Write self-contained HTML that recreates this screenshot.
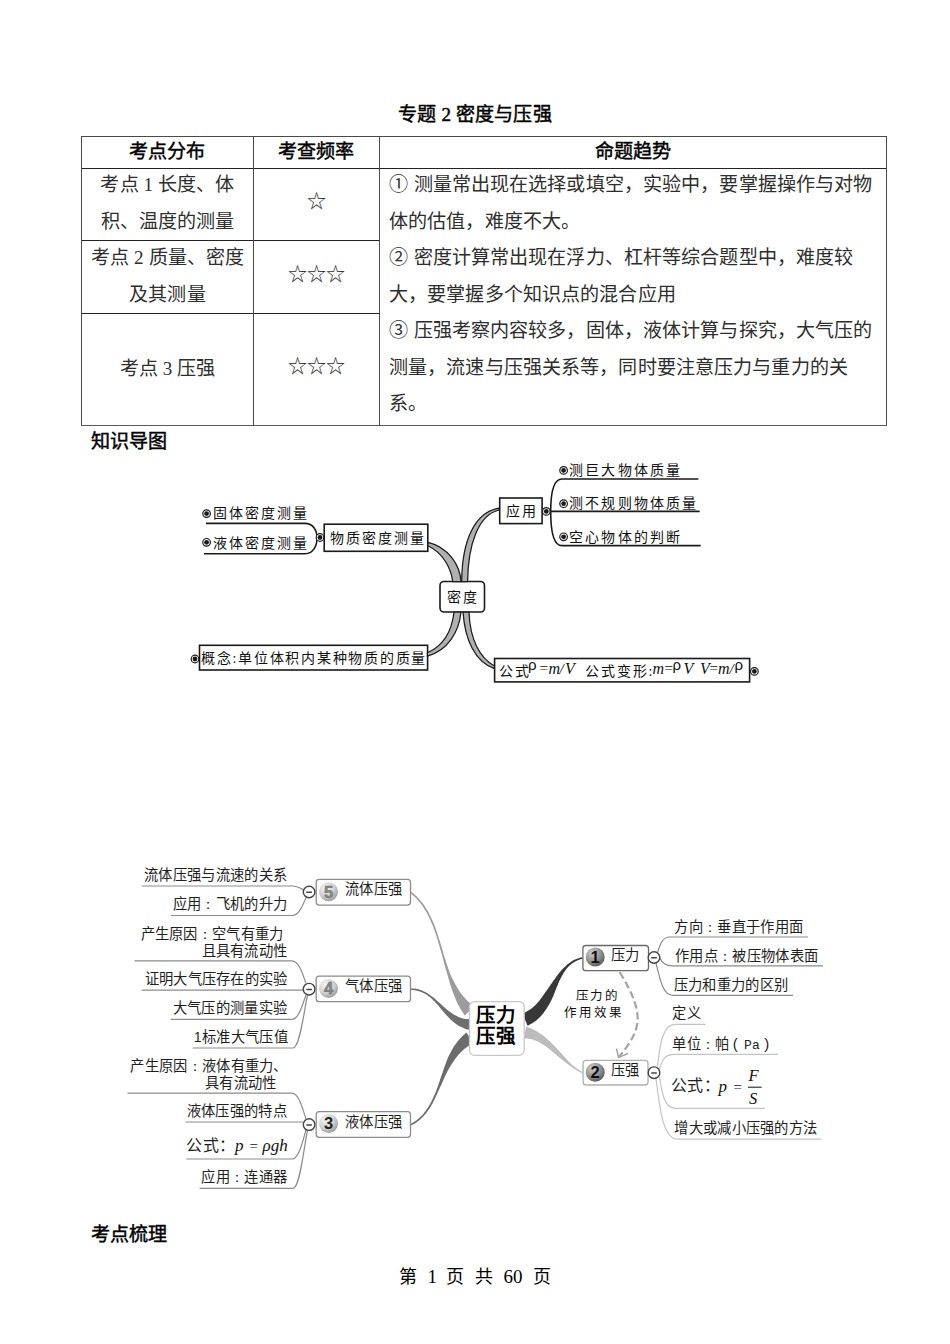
<!DOCTYPE html>
<html lang="zh-CN">
<head>
<meta charset="utf-8">
<style>
html,body{margin:0;padding:0;background:#fff;}
body{width:950px;height:1344px;position:relative;overflow:hidden;font-family:"Liberation Serif",serif;color:#000;}
.t{position:absolute;line-height:1;white-space:pre;}
.b{font-weight:bold;}
.f19{font-size:19.1px;color:#2e2e2e;letter-spacing:0.12px;}
.b.f19{color:#000;}
.hd{color:#000;-webkit-text-stroke:0.45px #000;}
.c{text-align:center;}
.hl{position:absolute;height:1px;background:#222;}
.vl{position:absolute;width:1px;background:#4a4a4a;}
.m1{font-size:14px;letter-spacing:2.2px;color:#111;}
.m2{font-family:"Liberation Sans",sans-serif;font-size:14.3px;letter-spacing:0.3px;color:#1e1e1e;}
svg{position:absolute;left:0;top:0;}
</style>
</head>
<body>
<!-- Title -->
<div class="t f19 hd" style="left:0;width:950px;top:104.5px;text-align:center;">专题 2 密度与压强</div>

<!-- Table lines -->
<div class="hl" style="left:82px;width:805px;top:136px;background:#4a4a4a;"></div>
<div class="hl" style="left:82px;width:805px;top:168px;"></div>
<div class="hl" style="left:82px;width:298px;top:240px;"></div>
<div class="hl" style="left:82px;width:298px;top:313px;"></div>
<div class="hl" style="left:82px;width:805px;top:425px;background:#5a5a5a;"></div>
<div class="vl" style="left:81px;top:136px;height:290px;"></div>
<div class="vl" style="left:253px;top:136px;height:290px;"></div>
<div class="vl" style="left:379px;top:136px;height:290px;"></div>
<div class="vl" style="left:886px;top:136px;height:290px;"></div>

<!-- header -->
<div class="t f19 hd" style="left:129px;top:141.5px;">考点分布</div>
<div class="t f19 hd" style="left:278px;top:141.5px;">考查频率</div>
<div class="t f19 hd" style="left:595px;top:141.5px;">命题趋势</div>

<!-- left col -->
<div class="t f19 c" style="left:82px;width:171px;top:175px;">考点 1 长度、体</div>
<div class="t f19 c" style="left:82px;width:171px;top:211.5px;">积、温度的测量</div>
<div class="t f19 c" style="left:82px;width:171px;top:248px;">考点 2 质量、密度</div>
<div class="t f19 c" style="left:82px;width:171px;top:284.5px;">及其测量</div>
<div class="t f19 c" style="left:82px;width:171px;top:359px;">考点 3 压强</div>

<!-- stars -->
<div class="t f19 c" style="left:253px;width:127px;top:192px;">☆</div>
<div class="t f19 c" style="left:253px;width:127px;top:264.5px;">☆☆☆</div>
<div class="t f19 c" style="left:253px;width:127px;top:357px;">☆☆☆</div>

<!-- right col -->
<div class="t f19" style="left:389px;top:175px;">①</div>
<div class="t f19" style="left:413.5px;top:175px;">测量常出现在选择或填空，实验中，要掌握操作与对物</div>
<div class="t f19" style="left:389px;top:211.5px;">体的估值，难度不大。</div>
<div class="t f19" style="left:389px;top:248px;">②</div>
<div class="t f19" style="left:413.5px;top:248px;">密度计算常出现在浮力、杠杆等综合题型中，难度较</div>
<div class="t f19" style="left:389px;top:284.5px;">大，要掌握多个知识点的混合应用</div>
<div class="t f19" style="left:389px;top:321px;">③</div>
<div class="t f19" style="left:413.5px;top:321px;">压强考察内容较多，固体，液体计算与探究，大气压的</div>
<div class="t f19" style="left:389px;top:357.5px;">测量，流速与压强关系等，同时要注意压力与重力的关</div>
<div class="t f19" style="left:389px;top:394px;">系。</div>

<div class="t f19 hd" style="left:91px;top:432px;">知识导图</div>

<!-- MINDMAP 1 -->
<svg width="950" height="1344" viewBox="0 0 950 1344">
<g fill="none" stroke="#1a1a1a" stroke-width="1.6">
  <path d="M206,523.4 H305 C313,523.4 317,530 317,538 C317,546 313,553.7 305,553.7 H204"/>
  <path d="M698.4,479 H562 C554,479 550.7,490 550.7,511.4 C550.7,533 554,545.6 562,545.6 H700.7"/>
  <path d="M550.7,511.4 H699.6"/>
  <rect x="324.2" y="524.2" width="103.6" height="27.1"/>
  <rect x="440" y="581.5" width="44.5" height="30.5" rx="4"/>
  <rect x="499.7" y="498" width="42.4" height="25.6"/>
  <rect x="199.5" y="645.3" width="228.1" height="24.7"/>
  <rect x="494.6" y="658.5" width="255" height="23.4"/>
</g>
<g fill="#b0b0b0" stroke="#1a1a1a" stroke-width="1.25">
  <path d="M428,542.3 C448,547 460,565 461,581.5 L452.7,581.5 C451,568 443,553 428,545.7 Z"/>
  <path d="M461.7,581.5 C462,540 475,512 499,508.2 L499,510 C478,515 468,545 467.6,581.5 Z"/>
  <path d="M454,612 C452,630 445,645 427.4,652.8 L427.4,656.2 C448,650 459,632 461,612 Z"/>
  <path d="M463,612 C465,640 475,662 494.4,668.6 L494.4,666 C480,658 470,640 469,612 Z"/>
</g>
<g id="bul" fill="#fff" stroke="#1a1a1a" stroke-width="1.2">
  <circle cx="206.6" cy="513.6" r="3.8"/>
  <circle cx="206.6" cy="542.3" r="3.8"/>
  <circle cx="320" cy="537.5" r="3.8"/>
  <circle cx="546.3" cy="511.4" r="3.8"/>
  <circle cx="563.6" cy="470.4" r="3.8"/>
  <circle cx="563.6" cy="503.7" r="3.8"/>
  <circle cx="563.6" cy="536.8" r="3.8"/>
  <circle cx="195" cy="659" r="3.8"/>
  <circle cx="754.4" cy="671.4" r="3.8"/>
</g>
<g fill="#1a1a1a">
  <circle cx="206.6" cy="513.6" r="2.4"/>
  <circle cx="206.6" cy="542.3" r="2.4"/>
  <circle cx="320" cy="537.5" r="2.4"/>
  <circle cx="546.3" cy="511.4" r="2.4"/>
  <circle cx="563.6" cy="470.4" r="2.4"/>
  <circle cx="563.6" cy="503.7" r="2.4"/>
  <circle cx="563.6" cy="536.8" r="2.4"/>
  <circle cx="195" cy="659" r="2.4"/>
  <circle cx="754.4" cy="671.4" r="2.4"/>
</g>
</svg>

<div class="t m1" style="left:212.5px;top:506.5px;">固体密度测量</div>
<div class="t m1" style="left:212.5px;top:537px;">液体密度测量</div>
<div class="t m1" style="left:329.5px;top:532px;">物质密度测量</div>
<div class="t m1" style="left:446.5px;top:591px;">密度</div>
<div class="t m1" style="left:505.7px;top:504.5px;">应用</div>
<div class="t m1" style="left:569px;top:463.5px;">测巨大物体质量</div>
<div class="t m1" style="left:569px;top:497px;">测不规则物体质量</div>
<div class="t m1" style="left:569px;top:530.5px;">空心物体的判断</div>
<div class="t m1" style="left:201px;top:651.5px;letter-spacing:1.75px;">概念:单位体积内某种物质的质量</div>
<div class="t m1" style="left:498.5px;top:665px;">公式</div>
<div class="t m1" style="left:585px;top:665px;letter-spacing:1.9px;">公式变形:</div>
<svg width="950" height="1344" viewBox="0 0 950 1344" font-family="Liberation Serif, serif" fill="#111">
<g font-size="16" font-style="italic">
<text x="548.5" y="673.5">m</text><text x="565" y="673.5">V</text>
<text x="652.5" y="673.5">m</text><text x="683.5" y="673.5">V</text>
<text x="700" y="673.5">V</text><text x="718" y="673.5">m</text>
</g>
<g font-size="15">
<text x="539.5" y="673">=</text><text x="664.5" y="673">=</text><text x="709.5" y="673">=</text>
<text x="559.5" y="673.5" font-style="italic">/</text><text x="729.5" y="673.5" font-style="italic">/</text>
</g>
<g font-family="Liberation Sans, sans-serif" font-size="15">
<text x="528" y="670">ρ</text><text x="672.5" y="670">ρ</text><text x="734.5" y="670">ρ</text>
</g>
</svg>


<!-- MINDMAP 2 -->
<svg width="950" height="1344" viewBox="0 0 950 1344">
<defs>
  <radialGradient id="gl" cx="0.35" cy="0.3" r="0.75">
    <stop offset="0" stop-color="#f4f4f4"/><stop offset="0.6" stop-color="#d0d0d0"/><stop offset="1" stop-color="#9a9a9a"/>
  </radialGradient>
  <radialGradient id="gd" cx="0.35" cy="0.3" r="0.75">
    <stop offset="0" stop-color="#cfcfcf"/><stop offset="0.6" stop-color="#8f8f8f"/><stop offset="1" stop-color="#5a5a5a"/>
  </radialGradient>
</defs>
<!-- main branches -->
<path fill="#9c9c9c" d="M410.1,892.9 L411.8,894.3 L413.5,895.7 L415.1,897.2 L416.6,898.7 L418.0,900.3 L419.4,901.9 L420.7,903.6 L422.0,905.3 L423.2,907.1 L424.4,908.9 L425.5,910.7 L426.6,912.6 L427.7,914.5 L428.6,916.4 L429.6,918.4 L430.5,920.4 L431.4,922.4 L432.2,924.5 L433.1,926.6 L433.8,928.7 L434.6,930.8 L435.4,933.0 L436.1,935.1 L436.8,937.3 L437.5,939.5 L438.1,941.8 L438.8,944.0 L439.5,946.2 L440.1,948.5 L440.8,950.8 L441.4,953.0 L442.0,955.3 L442.7,957.6 L443.3,959.9 L443.9,962.1 L444.5,964.4 L445.1,966.7 L445.7,969.0 L446.4,971.3 L447.1,973.5 L447.8,975.8 L448.4,978.0 L449.0,980.3 L449.7,982.6 L450.4,984.9 L451.1,987.1 L451.8,989.4 L452.6,991.6 L453.5,993.8 L454.4,996.0 L455.3,998.2 L456.2,1000.5 L457.2,1002.7 L458.3,1004.9 L459.4,1007.0 L460.7,1009.2 L462.0,1011.3 L463.4,1013.4 L464.8,1015.4 L474.2,1006.6 L472.5,1005.2 L470.8,1003.8 L469.2,1002.4 L467.7,1000.9 L466.2,999.4 L464.7,997.8 L463.2,996.2 L461.8,994.5 L460.5,992.7 L459.2,990.8 L458.0,989.0 L456.9,987.0 L455.7,985.1 L454.6,983.1 L453.6,981.1 L452.5,979.0 L451.5,976.9 L450.6,974.8 L449.7,972.6 L448.9,970.4 L448.1,968.2 L447.4,966.0 L446.6,963.8 L445.9,961.5 L445.2,959.3 L444.4,957.1 L443.8,954.8 L443.1,952.5 L442.5,950.3 L441.8,948.0 L441.2,945.7 L440.5,943.5 L439.8,941.3 L439.1,939.0 L438.4,936.8 L437.7,934.6 L437.0,932.4 L436.2,930.2 L435.5,928.1 L434.7,926.0 L433.8,923.8 L433.0,921.8 L432.1,919.7 L431.1,917.7 L430.1,915.7 L429.1,913.7 L428.1,911.7 L427.0,909.8 L425.8,908.0 L424.6,906.1 L423.4,904.3 L422.0,902.6 L420.7,900.9 L419.2,899.2 L417.7,897.6 L416.2,896.0 L414.6,894.5 L412.9,893.1 L411.1,891.7 Z"/>
<path fill="#6e6e6e" d="M410.8,990.0 L412.1,990.0 L413.3,990.1 L414.6,990.3 L415.8,990.4 L416.9,990.7 L418.0,991.0 L419.2,991.3 L420.2,991.7 L421.3,992.1 L422.3,992.5 L423.4,993.0 L424.4,993.5 L425.3,994.1 L426.3,994.6 L427.2,995.3 L428.2,995.9 L429.1,996.6 L430.0,997.3 L430.9,998.0 L431.7,998.8 L432.6,999.6 L433.4,1000.4 L434.2,1001.3 L435.0,1002.1 L435.8,1003.0 L436.7,1003.8 L437.5,1004.7 L438.3,1005.6 L439.1,1006.5 L439.9,1007.4 L440.6,1008.4 L441.4,1009.3 L442.2,1010.2 L442.9,1011.2 L443.7,1012.1 L444.5,1013.1 L445.3,1014.0 L446.2,1014.9 L447.0,1015.8 L447.9,1016.7 L448.7,1017.6 L449.6,1018.5 L450.5,1019.4 L451.4,1020.3 L452.4,1021.1 L453.4,1021.9 L454.4,1022.7 L455.4,1023.5 L456.5,1024.3 L457.6,1025.0 L458.7,1025.7 L459.9,1026.4 L461.2,1027.0 L462.4,1027.6 L463.7,1028.2 L465.1,1028.7 L466.5,1029.2 L468.0,1029.6 L469.4,1030.0 L470.6,1019.0 L469.4,1019.1 L468.3,1019.1 L467.3,1019.1 L466.2,1019.0 L465.2,1018.9 L464.1,1018.7 L463.1,1018.5 L462.1,1018.2 L461.0,1017.9 L460.0,1017.6 L459.0,1017.2 L458.1,1016.7 L457.1,1016.3 L456.1,1015.8 L455.1,1015.3 L454.1,1014.7 L453.2,1014.1 L452.2,1013.5 L451.3,1012.8 L450.3,1012.1 L449.4,1011.4 L448.5,1010.7 L447.6,1009.9 L446.6,1009.2 L445.7,1008.4 L444.8,1007.6 L443.9,1006.9 L443.0,1006.1 L442.1,1005.3 L441.2,1004.5 L440.3,1003.6 L439.4,1002.8 L438.5,1002.0 L437.6,1001.2 L436.7,1000.4 L435.8,999.6 L434.9,998.8 L434.0,998.0 L433.0,997.3 L432.1,996.6 L431.1,995.9 L430.2,995.1 L429.2,994.5 L428.2,993.8 L427.2,993.2 L426.2,992.5 L425.2,992.0 L424.1,991.4 L423.0,990.9 L421.9,990.5 L420.8,990.1 L419.7,989.7 L418.5,989.3 L417.3,989.1 L416.0,988.8 L414.8,988.6 L413.5,988.5 L412.2,988.4 L410.8,988.4 Z"/>
<path fill="#6c6c6c" d="M411.2,1125.4 L412.8,1124.6 L414.4,1123.7 L415.9,1122.7 L417.4,1121.7 L418.8,1120.6 L420.1,1119.5 L421.4,1118.3 L422.7,1117.1 L423.9,1115.8 L425.0,1114.5 L426.1,1113.2 L427.2,1111.8 L428.2,1110.3 L429.2,1108.9 L430.2,1107.4 L431.1,1105.8 L432.0,1104.3 L432.9,1102.7 L433.7,1101.1 L434.5,1099.5 L435.3,1097.8 L436.1,1096.1 L436.8,1094.4 L437.6,1092.7 L438.4,1091.0 L439.2,1089.3 L439.9,1087.6 L440.7,1085.9 L441.5,1084.2 L442.3,1082.5 L443.0,1080.8 L443.8,1079.0 L444.6,1077.3 L445.4,1075.6 L446.2,1073.9 L447.0,1072.2 L447.9,1070.6 L448.8,1069.0 L449.7,1067.4 L450.7,1065.8 L451.6,1064.2 L452.6,1062.7 L453.6,1061.2 L454.6,1059.7 L455.6,1058.3 L456.7,1056.9 L457.8,1055.6 L458.9,1054.3 L460.1,1053.0 L461.3,1051.8 L462.5,1050.7 L463.7,1049.6 L465.0,1048.5 L466.3,1047.5 L467.6,1046.6 L469.0,1045.7 L470.5,1044.9 L471.9,1044.2 L473.5,1043.5 L466.5,1032.5 L464.9,1033.9 L463.3,1035.3 L461.8,1036.7 L460.4,1038.3 L459.0,1039.8 L457.7,1041.3 L456.5,1042.9 L455.3,1044.5 L454.2,1046.1 L453.2,1047.8 L452.2,1049.5 L451.2,1051.2 L450.3,1052.9 L449.5,1054.6 L448.6,1056.3 L447.9,1058.1 L447.1,1059.8 L446.4,1061.6 L445.7,1063.4 L445.1,1065.2 L444.4,1067.0 L443.8,1068.8 L443.2,1070.6 L442.6,1072.4 L442.0,1074.2 L441.3,1076.0 L440.7,1077.8 L440.1,1079.6 L439.5,1081.4 L438.9,1083.2 L438.3,1084.9 L437.7,1086.7 L437.0,1088.5 L436.4,1090.2 L435.8,1092.0 L435.0,1093.7 L434.3,1095.3 L433.5,1097.0 L432.8,1098.6 L432.0,1100.2 L431.2,1101.8 L430.3,1103.4 L429.5,1104.9 L428.6,1106.4 L427.7,1107.9 L426.7,1109.3 L425.7,1110.7 L424.7,1112.1 L423.7,1113.4 L422.6,1114.7 L421.4,1115.9 L420.2,1117.1 L419.0,1118.2 L417.7,1119.3 L416.4,1120.4 L415.0,1121.3 L413.5,1122.3 L412.0,1123.2 L410.4,1124.0 Z"/>
<path fill="#383838" d="M582.3,957.2 L580.8,957.5 L579.3,957.9 L577.9,958.4 L576.5,958.9 L575.1,959.5 L573.8,960.1 L572.6,960.8 L571.3,961.6 L570.2,962.4 L569.0,963.2 L567.9,964.1 L566.8,965.1 L565.8,966.0 L564.7,967.0 L563.6,968.0 L562.6,969.0 L561.6,970.1 L560.6,971.2 L559.7,972.3 L558.7,973.5 L557.8,974.7 L556.9,975.9 L556.0,977.1 L555.2,978.4 L554.3,979.6 L553.4,980.8 L552.5,982.1 L551.6,983.4 L550.7,984.6 L549.8,985.9 L548.9,987.2 L548.1,988.4 L547.2,989.7 L546.3,990.9 L545.4,992.1 L544.6,993.4 L543.8,994.6 L542.9,995.8 L542.1,997.0 L541.2,998.2 L540.4,999.3 L539.5,1000.4 L538.6,1001.5 L537.8,1002.5 L536.9,1003.5 L535.9,1004.5 L535.0,1005.4 L534.1,1006.3 L533.1,1007.2 L532.1,1008.0 L531.2,1008.7 L530.2,1009.5 L529.2,1010.1 L528.1,1010.8 L527.1,1011.3 L526.0,1011.9 L524.9,1012.4 L523.7,1012.8 L522.4,1013.3 L527.6,1025.7 L529.1,1025.0 L530.7,1024.1 L532.3,1023.2 L533.8,1022.2 L535.2,1021.2 L536.6,1020.2 L537.9,1019.0 L539.1,1017.9 L540.3,1016.7 L541.4,1015.5 L542.5,1014.2 L543.5,1012.9 L544.5,1011.6 L545.4,1010.3 L546.4,1009.0 L547.2,1007.6 L548.0,1006.2 L548.8,1004.9 L549.6,1003.5 L550.4,1002.1 L551.1,1000.7 L551.8,999.2 L552.5,997.8 L553.1,996.4 L553.7,994.9 L554.3,993.5 L554.9,992.1 L555.4,990.6 L556.0,989.2 L556.5,987.8 L557.1,986.4 L557.7,985.0 L558.2,983.6 L558.8,982.2 L559.4,980.8 L560.1,979.5 L560.7,978.2 L561.4,977.0 L562.1,975.7 L562.8,974.5 L563.5,973.3 L564.2,972.1 L565.0,970.9 L565.8,969.8 L566.6,968.7 L567.4,967.7 L568.3,966.7 L569.3,965.8 L570.3,964.9 L571.4,964.0 L572.5,963.3 L573.6,962.5 L574.7,961.8 L575.9,961.2 L577.2,960.6 L578.5,960.0 L579.8,959.6 L581.2,959.1 L582.7,958.8 Z"/>
<path fill="#bcbcbc" d="M582.8,1072.0 L581.8,1071.4 L580.7,1070.9 L579.7,1070.3 L578.7,1069.7 L577.7,1069.1 L576.8,1068.4 L575.8,1067.7 L574.9,1067.0 L573.9,1066.3 L573.0,1065.6 L572.1,1064.9 L571.2,1064.1 L570.4,1063.3 L569.5,1062.4 L568.7,1061.6 L567.9,1060.7 L567.1,1059.8 L566.3,1058.9 L565.5,1058.0 L564.7,1057.1 L563.9,1056.2 L563.1,1055.3 L562.3,1054.4 L561.5,1053.5 L560.6,1052.6 L559.8,1051.7 L559.0,1050.8 L558.2,1049.9 L557.3,1049.0 L556.5,1048.1 L555.6,1047.2 L554.8,1046.3 L553.9,1045.5 L553.0,1044.6 L552.2,1043.7 L551.3,1042.8 L550.4,1042.0 L549.5,1041.1 L548.6,1040.2 L547.7,1039.4 L546.8,1038.6 L545.8,1037.7 L544.8,1036.9 L543.8,1036.1 L542.8,1035.4 L541.8,1034.6 L540.7,1033.9 L539.6,1033.2 L538.5,1032.5 L537.4,1031.8 L536.3,1031.1 L535.1,1030.5 L533.9,1029.8 L532.7,1029.2 L531.4,1028.6 L530.1,1028.0 L528.8,1027.5 L527.4,1027.0 L526.1,1026.6 L523.9,1038.4 L525.1,1038.4 L526.2,1038.5 L527.2,1038.6 L528.3,1038.7 L529.4,1038.9 L530.4,1039.1 L531.5,1039.3 L532.6,1039.6 L533.6,1039.9 L534.6,1040.3 L535.6,1040.7 L536.6,1041.1 L537.6,1041.6 L538.6,1042.1 L539.6,1042.6 L540.6,1043.1 L541.5,1043.7 L542.5,1044.3 L543.5,1044.9 L544.4,1045.5 L545.4,1046.1 L546.4,1046.8 L547.3,1047.5 L548.2,1048.2 L549.2,1048.9 L550.1,1049.7 L551.0,1050.4 L551.9,1051.2 L552.8,1052.0 L553.7,1052.7 L554.7,1053.5 L555.6,1054.3 L556.5,1055.1 L557.4,1055.9 L558.3,1056.7 L559.2,1057.5 L560.2,1058.3 L561.2,1059.1 L562.1,1059.8 L563.1,1060.6 L564.0,1061.3 L565.0,1062.1 L566.0,1062.8 L567.0,1063.6 L567.9,1064.3 L568.9,1065.0 L569.9,1065.7 L570.9,1066.4 L571.9,1067.1 L572.8,1067.8 L573.8,1068.5 L574.8,1069.2 L575.8,1069.8 L576.9,1070.5 L577.9,1071.1 L579.0,1071.6 L580.0,1072.2 L581.1,1072.7 L582.2,1073.2 Z"/>
<!-- sub lines left -->
<g fill="none" stroke="#8c8c8c" stroke-width="1.2">
  <path d="M141.6,886 H292 C297,886 300,888 304,890"/>
  <path d="M171,915.5 H292 C299,915.5 303,905 306,897.5"/>
  <path d="M134.5,960.8 H292 C299,960.8 303,975 306,983.5"/>
  <path d="M141.6,990.2 H303"/>
  <path d="M170.8,1019.3 H292 C299,1019.3 303,1003 306,995"/>
  <path d="M192.6,1048 H293 C300,1048 304,1010 307.5,995.5"/>
  <path d="M127.6,1093.2 H292 C299,1093.2 303,1110 306,1119"/>
  <path d="M185.4,1122 H303"/>
  <path d="M186.3,1159 H292 C299,1159 303,1140 306,1130"/>
  <path d="M199.6,1188.3 H293 C300,1188.3 304,1146 307.5,1130.5"/>
</g>
<g fill="none" stroke="#8a8a8a" stroke-width="1.2">
  <path d="M657.6,952.5 C660,945 662,937 670,937 H808"/>
  <path d="M660,958 C662,963 665,965.8 672,965.8 H823"/>
  <path d="M656,963 C660,980 663,995.3 673,995.3 H793"/>
</g>
<g fill="none" stroke="#c4c4c4" stroke-width="1.2">
  <path d="M657.6,1067 C660,1040 664,1024.3 675,1024.3 H705.5"/>
  <path d="M659.5,1069 C662,1060 665,1054.4 674,1054.4 H778"/>
  <path d="M659.5,1076.5 C662,1095 665,1108.3 675,1108.3 H764.9"/>
  <path d="M656,1078.5 C660,1110 663,1139.2 678,1139.2 H821.2"/>
</g>
<!-- dashed arrow -->
<g fill="none" stroke="#a4a4a4" stroke-width="2.2">
  <path d="M619.5,972 C632,992 640,1010 637,1025 C635,1037 626,1048 619,1057" stroke-dasharray="7.5 3.5"/>
  <path d="M616.5,1048.5 L618.5,1057.5 L628,1053.5" stroke-width="1.5"/>
</g>
<!-- boxes -->
<g fill="#fff" stroke="#8c8c8c" stroke-width="1.3">
  <rect x="316.2" y="879.4" width="94.3" height="25.7" rx="3"/>
  <rect x="316.2" y="976.1" width="94.3" height="25.6" rx="3"/>
  <rect x="316.2" y="1111.7" width="94.3" height="25.6" rx="3"/>
  <rect x="582.9" y="945.5" width="65.6" height="25.2" rx="3" stroke="#6a6a6a"/>
  <rect x="583.1" y="1060.4" width="64.9" height="24.6" rx="3" stroke="#b0b0b0"/>
  <rect x="469.5" y="1001.6" width="54.7" height="53.7" rx="5" stroke="#c8c8c8"/>
</g>
<!-- number circles -->
<circle cx="328.5" cy="891.7" r="9.5" fill="url(#gl)"/>
<circle cx="328.5" cy="988.4" r="9.5" fill="url(#gl)"/>
<circle cx="328.5" cy="1123.5" r="9.5" fill="url(#gl)"/>
<circle cx="595.2" cy="957" r="9.5" fill="url(#gd)"/>
<circle cx="595.2" cy="1072.2" r="9.5" fill="url(#gd)"/>
<g font-family="Liberation Sans, sans-serif" font-weight="bold" font-size="16.5" text-anchor="middle">
  <text x="328.5" y="897.6" fill="#8c8c8c" stroke="#6a6a6a" stroke-width="0.5">5</text>
  <text x="328.5" y="994.3" fill="#8c8c8c" stroke="#6a6a6a" stroke-width="0.5">4</text>
  <text x="328.5" y="1129.4" fill="#222">3</text>
  <text x="595.2" y="962.9" fill="#111">1</text>
  <text x="595.2" y="1078.1" fill="#111">2</text>
</g>
<!-- collapse circles -->
<g fill="#fff" stroke="#444" stroke-width="1.4">
  <circle cx="309.1" cy="892" r="5.8"/>
  <circle cx="309.1" cy="989.2" r="5.8"/>
  <circle cx="309.1" cy="1124.6" r="5.8"/>
  <circle cx="654" cy="957.5" r="5.8"/>
  <circle cx="654" cy="1072.7" r="5.8"/>
</g>
<g stroke="#444" stroke-width="1.5">
  <path d="M306.3,892.3 H311.9 M306.3,989.5 H311.9 M306.3,1124.9 H311.9 M651.2,957.8 H656.8 M651.2,1073 H656.8"/>
</g>
<g font-family="Liberation Serif, serif" fill="#111">
<text x="235" y="1150.5" font-size="17" font-style="italic">p</text>
<text x="249.5" y="1151" font-size="15">=</text>
<text x="262.5" y="1150.5" font-size="17" font-style="italic">ρgh</text>
<text x="718.5" y="1091.5" font-size="17" font-style="italic">p</text>
<text x="733.5" y="1092" font-size="15">=</text>
<text x="748.5" y="1080.8" font-size="16.5" font-style="italic">F</text>
<text x="749" y="1103.5" font-size="16.5" font-style="italic">S</text>
</g>
<!-- fraction bar -->
<path d="M747.9,1087.2 H761.6" stroke="#222" stroke-width="1.1"/>
</svg>

<div class="t m2" style="left:144.2px;top:868px;">流体压强与流速的关系</div>
<div class="t m2" style="left:172.8px;top:897px;">应用<span lang="ja">：</span>飞机的升力</div>
<div class="t m2" style="left:140.6px;top:927.3px;">产生原因<span lang="ja">：</span>空气有重力</div>
<div class="t m2" style="left:201.5px;top:944.3px;">且具有流动性</div>
<div class="t m2" style="left:144.7px;top:972px;">证明大气压存在的实验</div>
<div class="t m2" style="left:172.8px;top:1001.4px;">大气压的测量实验</div>
<div class="t m2" style="left:193.8px;top:1030.2px;">1标准大气压值</div>
<div class="t m2" style="left:130.4px;top:1059.4px;">产生原因<span lang="ja">：</span>液体有重力、</div>
<div class="t m2" style="left:205.2px;top:1076.4px;">具有流动性</div>
<div class="t m2" style="left:186.8px;top:1104.4px;">液体压强的特点</div>
<div class="t m2" style="left:186.3px;top:1137.5px;font-size:16px;">公式：</div>
<div class="t m2" style="left:201.4px;top:1170.4px;">应用<span lang="ja">：</span>连通器</div>

<div class="t m2" style="left:345px;top:882px;">流体压强</div>
<div class="t m2" style="left:345px;top:979px;">气体压强</div>
<div class="t m2" style="left:345px;top:1115px;">液体压强</div>

<div class="t b" style="left:476px;top:1005.9px;font-size:19.5px;">压力</div>
<div class="t b" style="left:476px;top:1027px;font-size:19.5px;">压强</div>

<div class="t" style="left:575.5px;top:990px;font-size:12.5px;letter-spacing:1.9px;color:#111;">压力的</div>
<div class="t" style="left:564px;top:1006.5px;font-size:12.5px;letter-spacing:1.9px;color:#111;">作用效果</div>

<div class="t m2" style="left:610.6px;top:948.4px;">压力</div>
<div class="t m2" style="left:610.6px;top:1063.4px;">压强</div>
<div class="t m2" style="left:674.4px;top:919.6px;">方向<span lang="ja">：</span>垂直于作用面</div>
<div class="t m2" style="left:675.2px;top:949px;">作用点<span lang="ja">：</span>被压物体表面</div>
<div class="t m2" style="left:673.8px;top:978.4px;">压力和重力的区别</div>
<div class="t m2" style="left:672.4px;top:1006px;">定义</div>
<div class="t m2" style="left:672.4px;top:1036px;">单位<span lang="ja">：</span>帕<span style="font-size:15px;margin-left:3px;">(</span><span style="font-family:'Liberation Mono',monospace;font-size:13px;margin-left:6px;">Pa</span><span style="font-size:15px;margin-left:4px;">)</span></div>
<div class="t m2" style="left:671px;top:1078px;font-size:16px;">公式：</div>
<div class="t m2" style="left:674.4px;top:1120.7px;">增大或减小压强的方法</div>
<div class="t f19 hd" style="left:91px;top:1225px;">考点梳理</div>

<!-- footer -->
<div class="t" style="left:399px;top:1268px;font-size:18px;">第</div>
<div class="t" style="left:427.5px;top:1267px;font-size:19px;">1</div>
<div class="t" style="left:446px;top:1268px;font-size:18px;">页</div>
<div class="t" style="left:475px;top:1268px;font-size:18px;">共</div>
<div class="t" style="left:503.5px;top:1267px;font-size:19px;">60</div>
<div class="t" style="left:533px;top:1268px;font-size:18px;">页</div>
</body>
</html>
